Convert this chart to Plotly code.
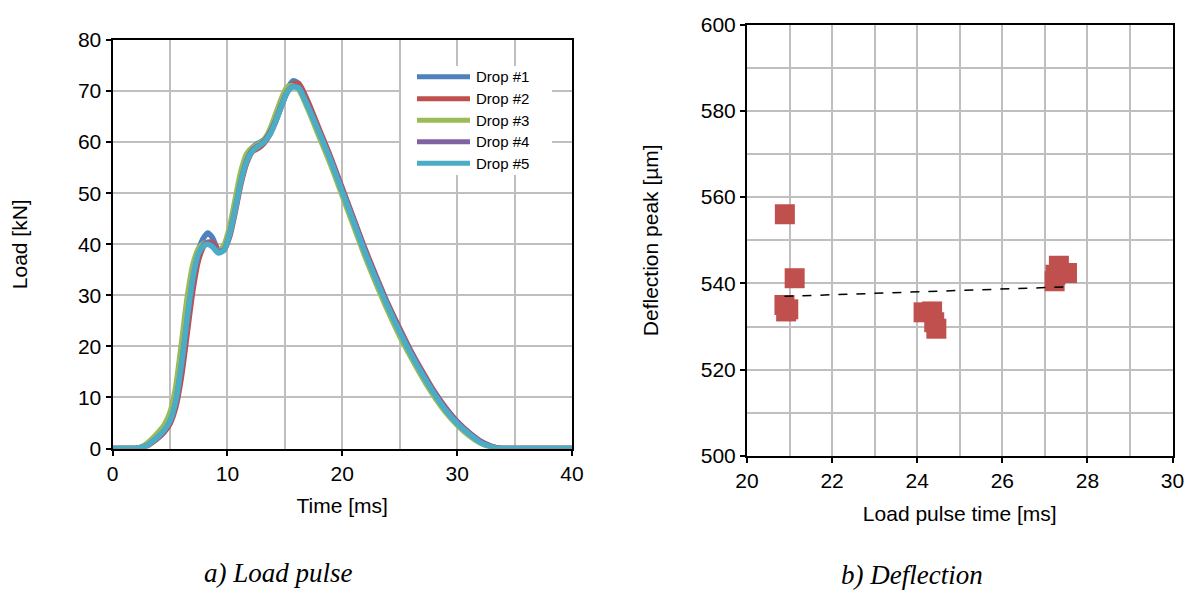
import plotly.graph_objects as go

W, H = 1186, 590

# ---------------- data: load pulse ----------------
time_ms = [0, 1, 2, 2.5, 3, 3.5, 4, 4.5, 5, 5.5, 6, 6.5, 7, 7.5, 8, 8.3, 8.7, 9.2, 9.7, 10.2,
           10.7, 11.2, 11.7, 12.2, 12.7, 13.2, 13.7, 14.2, 14.7, 15.2, 15.7, 16.2, 17, 18, 19, 20,
           21, 22, 23, 24, 25, 26, 27, 28, 29, 30, 31, 32, 33, 33.5, 34, 35, 36, 38, 40]

drop1 = [0, 0, 0, 0.2, 0.7, 1.5, 2.5, 3.7, 5.5, 9.5, 17, 26, 34, 39, 41.5, 42.2, 41.3, 39, 39.3, 42.5,
         47.5, 53, 57, 59, 59.8, 60.5, 62, 64.5, 67.5, 70.3, 72, 71.5, 67.5, 62, 56.5, 50.5,
         44.5, 38.5, 33, 27.8, 23, 18.5, 14.5, 10.8, 7.6, 5, 3, 1.3, 0.3, 0, 0, 0, 0, 0, 0]
drop2 = [0, 0, 0, 0.1, 0.5, 1.2, 2.1, 3.2, 4.8, 8, 14, 22.5, 31, 37, 39.8, 40.4, 40.3, 39, 38.9, 41.5,
         46.5, 52, 56, 58.2, 58.8, 59.8, 61.5, 64, 67, 69.8, 71.3, 71.5, 68, 62.5, 57, 51,
         45, 39, 33.5, 28.2, 23.5, 19, 15, 11.2, 8, 5.3, 3.2, 1.5, 0.4, 0.1, 0, 0, 0, 0, 0]
drop3 = [0, 0, 0, 0.3, 1, 2, 3.2, 4.6, 7, 12, 20.5, 29.5, 36, 39.2, 40.2, 40.1, 39.6, 38.6, 39.8, 43.5,
         49, 54.5, 57.8, 59, 59.6, 60.5, 62.5, 65.5, 68.5, 70.8, 71, 70.3, 66.5, 61, 55.5, 49.5,
         43.5, 37.5, 32, 26.8, 22, 17.8, 13.8, 10.2, 7.1, 4.6, 2.6, 1.1, 0.2, 0, 0, 0, 0, 0, 0]
drop4 = [0, 0, 0, 0.2, 0.6, 1.4, 2.3, 3.5, 5.2, 9, 16, 25, 33, 38, 40, 40.3, 39.8, 38.6, 38.9, 42,
         47, 52.5, 56.5, 58.5, 59.3, 60.2, 61.8, 64.2, 67.2, 69.8, 70.9, 70.8, 67.3, 62, 56.6, 50.7,
         44.7, 38.7, 33.2, 28, 23.2, 18.8, 14.7, 11, 7.8, 5.2, 3.1, 1.4, 0.4, 0.1, 0, 0, 0, 0, 0]
drop5 = [0, 0, 0, 0.2, 0.6, 1.4, 2.4, 3.6, 5.4, 9.2, 16.5, 25.5, 33.5, 38.3, 39.8, 40, 39.5, 38.3, 38.8, 42,
         47, 52.5, 56.3, 58.3, 59.2, 60, 61.5, 64, 67, 69.7, 70.8, 70.6, 67, 61.8, 56.3, 50.3,
         44.3, 38.3, 32.8, 27.6, 22.8, 18.4, 14.4, 10.7, 7.5, 4.9, 2.9, 1.2, 0.3, 0, 0, 0, 0, 0, 0]

drop_names = ["Drop #1", "Drop #2", "Drop #3", "Drop #4", "Drop #5"]
drop_colors = ["#4F81BD", "#C0504D", "#9BBB59", "#8064A2", "#4BACC6"]

# ---------------- data: deflection ----------------
pulse_time = [20.88, 20.92, 20.97, 20.89, 21.12, 24.15, 24.35, 24.40, 24.45, 27.23, 27.25, 27.33, 27.52]
deflection = [535.0, 533.5, 534.0, 556.0, 541.2, 533.3, 533.5, 531.0, 529.5, 540.5, 542.0, 544.1, 542.4]
trend_time = [20.88, 27.52]
trend_defl = [537.0, 539.2]

FONT = "Liberation Sans, Arial, sans-serif"
SERIF = "Liberation Serif, Times New Roman, serif"
GRID = "#BFBFBF"
FS = 21

fig = go.Figure()

for name, col, ys in zip(drop_names, drop_colors, [drop1, drop2, drop3, drop4, drop5]):
    fig.add_trace(go.Scatter(x=time_ms, y=ys, mode="lines", name=name, showlegend=False,
                             line=dict(color=col, width=5.5, shape="spline", smoothing=0.7),
                             xaxis="x", yaxis="y"))

fig.add_trace(go.Scatter(x=pulse_time, y=deflection, mode="markers", showlegend=False,
                         marker=dict(symbol="square", size=20, color="#C0504D",
                                     line=dict(width=0)),
                         xaxis="x2", yaxis="y2"))
fig.add_trace(go.Scatter(x=trend_time, y=trend_defl, mode="lines", showlegend=False,
                         line=dict(color="black", width=1.5, dash="dash"),
                         xaxis="x2", yaxis="y2"))


def px_x(p):
    return p / W


def px_y(p):
    return 1 - p / H


axis_common = dict(showline=True, linecolor="black", linewidth=2, mirror=True,
                   ticks="outside", ticklen=5, tickcolor="black", tickwidth=1.5,
                   gridcolor=GRID, gridwidth=1.5, zeroline=False, automargin=False,
                   tickfont=dict(family=FONT, size=FS, color="black"))

# ---- hand-drawn legend (long line samples like the original) ----
shapes = [dict(type="rect", xref="paper", yref="paper",
               x0=px_x(401), x1=px_x(552), y0=px_y(175), y1=px_y(66),
               fillcolor="white", line=dict(width=0), layer="above")]
annotations = []
row_y = [76.7, 98.7, 120.3, 141.7, 163.3]
for name, col, ry in zip(drop_names, drop_colors, row_y):
    shapes.append(dict(type="line", xref="paper", yref="paper",
                       x0=px_x(417), x1=px_x(470), y0=px_y(ry), y1=px_y(ry),
                       line=dict(color=col, width=5), layer="above"))
    annotations.append(dict(text=name, x=px_x(474), y=px_y(ry), xref="paper", yref="paper",
                            showarrow=False, xanchor="left", yanchor="middle",
                            font=dict(family=FONT, size=15, color="black")))

annotations += [
    dict(text="<i>a) Load pulse</i>", x=px_x(278), y=px_y(573), xref="paper", yref="paper",
         showarrow=False, xanchor="center", yanchor="middle",
         font=dict(family=SERIF, size=27, color="black")),
    dict(text="<i>b) Deflection</i>", x=px_x(912), y=px_y(575), xref="paper", yref="paper",
         showarrow=False, xanchor="center", yanchor="middle",
         font=dict(family=SERIF, size=27, color="black")),
]

fig.update_layout(
    width=W, height=H,
    margin=dict(l=0, r=0, t=0, b=0),
    paper_bgcolor="white", plot_bgcolor="white",
    font=dict(family=FONT, color="black"),
    showlegend=False,
    xaxis=dict(domain=[px_x(112.5), px_x(572)], range=[0, 40], dtick=10,
               minor=dict(dtick=5, showgrid=True, gridcolor=GRID, gridwidth=1.5),
               title=dict(text="Time [ms]", font=dict(family=FONT, size=FS), standoff=15),
               anchor="y", **axis_common),
    yaxis=dict(domain=[px_y(448.5), px_y(40)], range=[0, 80], dtick=10,
               title=dict(text="Load [kN]", font=dict(family=FONT, size=FS), standoff=45),
               anchor="x", **axis_common),
    xaxis2=dict(domain=[px_x(747), px_x(1172.5)], range=[20, 30], dtick=2,
                minor=dict(dtick=1, showgrid=True, gridcolor=GRID, gridwidth=1.5),
                title=dict(text="Load pulse time [ms]", font=dict(family=FONT, size=FS), standoff=15),
                anchor="y2", **axis_common),
    yaxis2=dict(domain=[px_y(456), px_y(24.5)], range=[500, 600], dtick=20,
                minor=dict(dtick=10, showgrid=True, gridcolor=GRID, gridwidth=1.5),
                title=dict(text="Deflection peak [µm]", font=dict(family=FONT, size=FS), standoff=36),
                anchor="x2", **axis_common),
    shapes=shapes,
    annotations=annotations,
)

fig.write_html("out.html")
